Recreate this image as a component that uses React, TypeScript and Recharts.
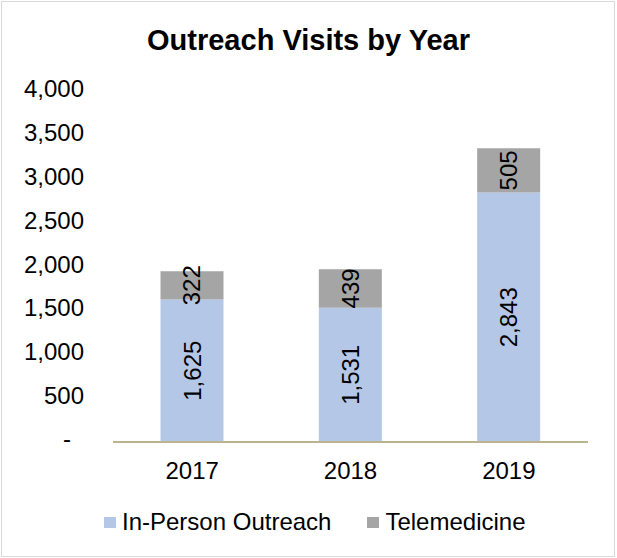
import React from "react";
import { BarChart, Bar, XAxis, YAxis, LabelList } from "recharts";

const years = ["2017", "2018", "2019"];
const inPerson = [1625, 1531, 2843];
const telemedicine = [322, 439, 505];
const yTicks = [0, 500, 1000, 1500, 2000, 2500, 3000, 3500, 4000];

const BLUE = "#b4c7e7";
const GRAY = "#a5a5a5";
const FONT = "'Liberation Sans', Arial, sans-serif";

const data = years.map((year, i) => ({
  year,
  inPerson: inPerson[i],
  telemedicine: telemedicine[i],
}));

const fmt = (v: number) => v.toLocaleString("en-US");

// rotated value label in the middle of each segment
function VerticalLabel(props: any) {
  const { x, y, width, height, value } = props;
  const cx = Number(x) + Number(width) / 2;
  const cy = Number(y) + Number(height) / 2;
  return (
    <text
      x={cx}
      y={cy}
      transform={`rotate(-90, ${cx}, ${cy})`}
      textAnchor="middle"
      dominantBaseline="central"
      fontSize={24}
      fontFamily={FONT}
      fill="#000"
    >
      {fmt(Number(value))}
    </text>
  );
}

function YTick(props: any) {
  const { x, y, payload } = props;
  const zero = payload.value === 0;
  return (
    <text
      x={x}
      y={y}
      dx={zero ? -13 : 0}
      dy={zero ? 5 : 6}
      textAnchor="end"
      fontSize={24}
      fontFamily={FONT}
      fill="#000"
    >
      {zero ? "-" : fmt(payload.value)}
    </text>
  );
}

const legendItems = [
  { name: "In-Person Outreach", color: BLUE },
  { name: "Telemedicine", color: GRAY },
];

export default function App() {
  return (
    <div style={{ position: "absolute", left: 0, top: 0, width: 617, height: 558, background: "#fff" }}>
      <div
        style={{
          position: "absolute",
          left: 1,
          top: 1,
          width: 612,
          height: 554,
          border: "1px solid #d9d9d9",
        }}
      />
      <div
        style={{
          position: "absolute",
          left: 0,
          top: 24,
          width: 617,
          textAlign: "center",
          fontFamily: FONT,
          fontWeight: "bold",
          fontSize: 29,
          color: "#000",
        }}
      >
        Outreach Visits by Year
      </div>
      <div style={{ position: "absolute", left: 0, top: 0 }}>
        <BarChart
          width={617}
          height={558}
          data={data}
          margin={{ top: 91, right: 29, left: 0, bottom: 86 }}
          barCategoryGap="30%"
        >
          <XAxis
            dataKey="year"
            height={30}
            axisLine={{ stroke: "#bcb38f", strokeWidth: 2 }}
            tickLine={false}
            tickMargin={14}
            tick={{ fontSize: 24, fontFamily: FONT, fill: "#000" }}
          />
          <YAxis
            width={113}
            domain={[0, 4000]}
            ticks={yTicks}
            axisLine={false}
            tickLine={false}
            tickMargin={23}
            tick={<YTick />}
            interval={0}
          />
          <Bar dataKey="inPerson" name="In-Person Outreach" stackId="a" fill={BLUE} isAnimationActive={false}>
            <LabelList dataKey="inPerson" content={<VerticalLabel />} />
          </Bar>
          <Bar dataKey="telemedicine" name="Telemedicine" stackId="a" fill={GRAY} isAnimationActive={false}>
            <LabelList dataKey="telemedicine" content={<VerticalLabel />} />
          </Bar>
        </BarChart>
      </div>
      <div
        style={{
          position: "absolute",
          left: 104,
          top: 508,
          display: "flex",
          alignItems: "center",
          fontFamily: FONT,
          fontSize: 24,
          lineHeight: "28px",
          color: "#000",
        }}
      >
        {legendItems.map((it) => (
          <div key={it.name} style={{ display: "flex", alignItems: "center", marginRight: 36 }}>
            <span style={{ display: "inline-block", width: 12, height: 11, background: it.color, marginRight: 6 }} />
            <span>{it.name}</span>
          </div>
        ))}
      </div>
    </div>
  );
}
